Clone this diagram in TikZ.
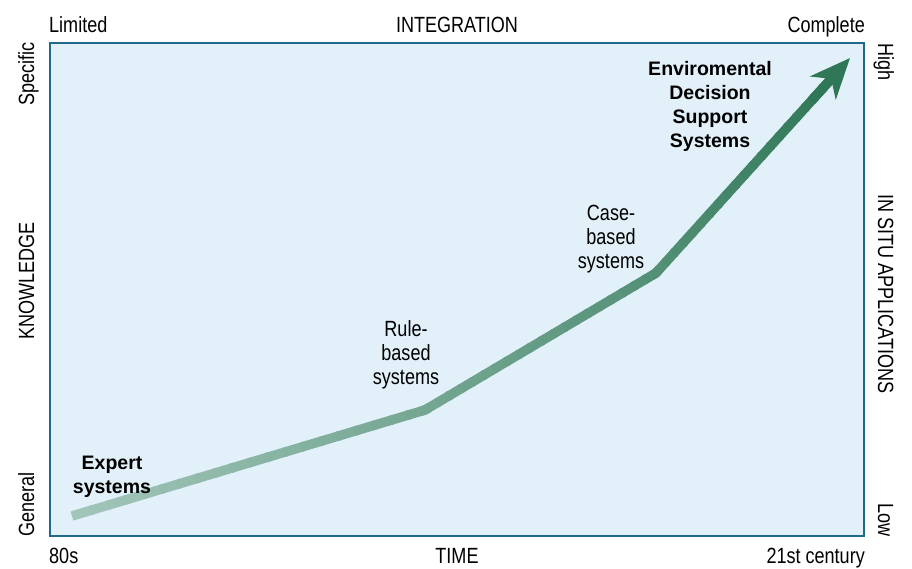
\documentclass[tikz,border=0pt]{standalone}
\usepackage{fontspec}
\setmainfont{Liberation Sans}
\newfontfamily\axisfont{Liberation Sans}[FakeStretch=0.82]
\usetikzlibrary{arrows.meta, calc, positioning}
\definecolor{frameblue}{HTML}{1F6A8A}
\definecolor{panelblue}{HTML}{E2F0F9}
\definecolor{trendlight}{HTML}{A2C6BA}
\definecolor{trenddark}{HTML}{2F7757}
\tikzset{
    axislabel/.style={font=\axisfont\fontsize{22}{24}\selectfont, inner sep=0pt},
    stage/.style={font=\axisfont\fontsize{22}{24}\selectfont, align=center, inner sep=0pt},
    keystage/.style={font=\bfseries\fontsize{19.5}{24}\selectfont, align=center, inner sep=0pt},
    trend/.style={line width=9.5pt},
    tip/.style={-{Stealth[length=40pt, width=34pt, inset=12pt]}}
}

\begin{document}
\begin{tikzpicture}[x=1pt, y=-1pt]
    \useasboundingbox (0,0) rectangle (912,568);
    % Panel
    \draw[frameblue, line width=2.5pt, fill=panelblue] (50,43) rectangle (864,536);
    % Top and bottom axes
    \node[axislabel, anchor=base west] (lim) at (49,32) {Limited};
    \node[axislabel, anchor=base] (integ) at (457,32) {INTEGRATION};
    \node[axislabel, anchor=base east] (compl) at (865,32) {Complete};
    \node[axislabel, anchor=base west] (eighties) at (49,563) {80s};
    \node[axislabel, anchor=base] (time) at (457,563) {TIME};
    \node[axislabel, anchor=base east] (century) at (865,563) {21st century};
    % Left and right axes
    \node[axislabel, rotate=90, anchor=base east] (spec) at (34,42) {Specific};
    \node[axislabel, rotate=90, anchor=base] (know) at (34,281) {KNOWLEDGE};
    \node[axislabel, rotate=90, anchor=base west] (gen) at (34,537) {General};
    \node[axislabel, rotate=-90, anchor=base west] (high) at (878,43) {High};
    \node[axislabel, rotate=-90, anchor=base] (insitu) at (878,294) {IN SITU APPLICATIONS};
    \node[axislabel, rotate=-90, anchor=base east] (low) at (878,537) {Low};
    % Trend line, light to dark
    \coordinate (es) at (72,516);
    \coordinate (rb) at (425,410);
    \coordinate (cb) at (656,273);
    \coordinate (eds) at (850,58);
    \foreach \from/\to/\fa/\fb/\len in {es/rb/0/40/1, rb/cb/40/69/1, cb/eds/69/100/0.9}{
        \foreach \i in {0,...,19}{
            \pgfmathtruncatemacro{\pc}{\fa+(\fb-\fa)*(\i+0.5)/20}
            \pgfmathsetmacro{\ta}{\len*\i/20}
            \pgfmathsetmacro{\tb}{min(\len*(\i+1)/20+0.01,\len)}
            \draw[trend, trenddark!\pc!trendlight] ($(\from)!\ta!(\to)$) -- ($(\from)!\tb!(\to)$);
        }
    }
    \draw[trend, trenddark!40!trendlight, line join=miter] ($(rb)!5pt!(es)$) -- (rb) -- ($(rb)!5pt!(cb)$);
    \draw[trend, trenddark!69!trendlight, line join=miter] ($(cb)!5pt!(rb)$) -- (cb) -- ($(cb)!5pt!(eds)$);
    \draw[trend, trenddark, tip] ($(cb)!0.8!(eds)$) -- (eds);
    % Stage labels
    \node[keystage] (expert) at (112,477) {Expert\\systems};
    \node[stage] (rule) at (406,355) {Rule-\\based\\systems};
    \node[stage] (case) at (611,239) {Case-\\based\\systems};
    \node[keystage] (edss) at (710,106) {Enviromental\\Decision\\Support\\Systems};
\end{tikzpicture}
\end{document}
